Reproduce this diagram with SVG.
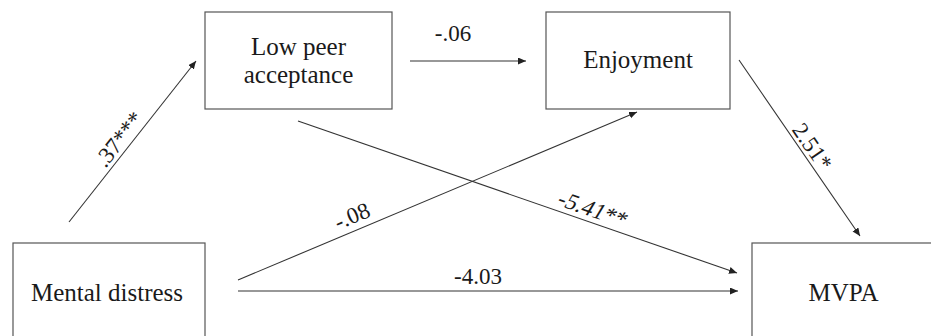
<svg xmlns="http://www.w3.org/2000/svg" width="931" height="336" viewBox="0 0 931 336">
<style>
.box{fill:#fff;stroke:#555;stroke-width:1.2}
.node{font-family:"Liberation Serif","Times New Roman",serif;font-size:25px;fill:#1a1a1a;text-anchor:middle}
.lbl{font-family:"Liberation Serif","Times New Roman",serif;font-size:23px;fill:#1a1a1a;text-anchor:middle}
.edge{stroke:#333;stroke-width:1.1;fill:none;marker-end:url(#ah)}
</style>
<defs>
<marker id="ah" markerUnits="userSpaceOnUse" markerWidth="10" markerHeight="8" refX="8" refY="3.5" orient="auto">
<path d="M0,0 L8,3.5 L0,7 Z" fill="#222"/>
</marker>
</defs>
<rect width="931" height="336" fill="#fff"/>
<g id="node-low-peer">
<rect class="box" x="205" y="12" width="187" height="97"/>
<text class="node" x="298.5" y="55">Low peer</text>
<text class="node" x="298.5" y="83">acceptance</text>
</g>
<g id="node-enjoyment">
<rect class="box" x="546" y="12" width="184" height="97"/>
<text class="node" x="638" y="68">Enjoyment</text>
</g>
<g id="node-mental-distress">
<rect class="box" x="13" y="243" width="192" height="120"/>
<text class="node" x="107" y="301">Mental distress</text>
</g>
<g id="node-mvpa">
<rect class="box" x="752" y="243" width="200" height="120"/>
<text class="node" x="843.5" y="301">MVPA</text>
</g>
<g id="connectors">
<line class="edge" x1="69" y1="222" x2="196" y2="61"/>
<line class="edge" x1="410" y1="61" x2="526" y2="61"/>
<line class="edge" x1="298" y1="121" x2="737" y2="273"/>
<line class="edge" x1="238" y1="280" x2="637" y2="112"/>
<line class="edge" x1="238" y1="291" x2="738" y2="291"/>
<line class="edge" x1="739" y1="60" x2="860" y2="236"/>
<text class="lbl" transform="translate(125,144) rotate(-51.7)">.37***</text>
<text class="lbl" x="453" y="41">-.06</text>
<text class="lbl" transform="translate(589,216) rotate(19.2) skewX(-12)">-5.41**</text>
<text class="lbl" transform="translate(355,223) rotate(-22.9)">-.08</text>
<text class="lbl" x="478" y="284">-4.03</text>
<text class="lbl" transform="translate(806,151) rotate(55.5)">2.51*</text>
</g>
</svg>
